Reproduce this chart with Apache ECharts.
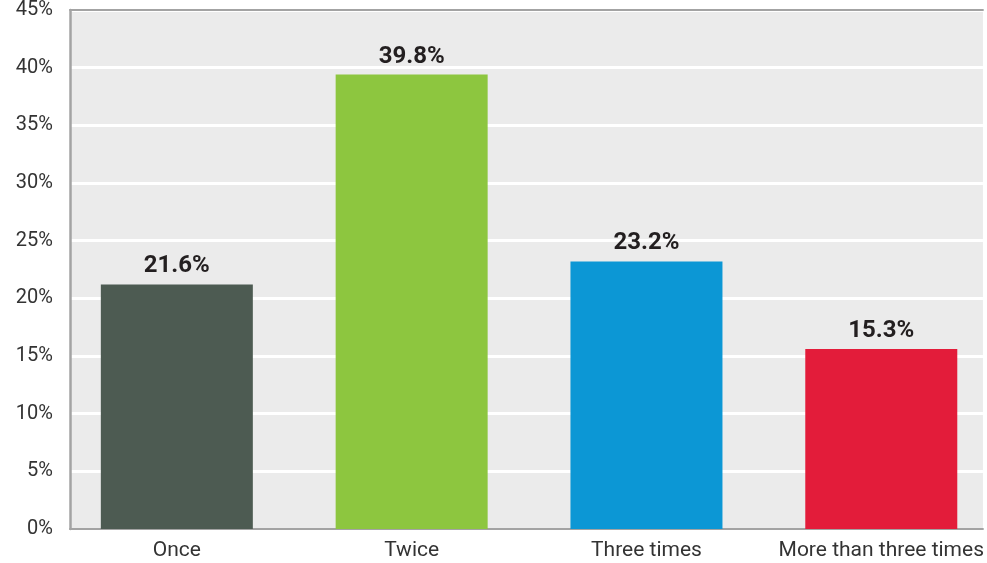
<!DOCTYPE html>
<html>
<head>
<meta charset="utf-8">
<script src="https://cdn.jsdelivr.net/npm/echarts@6/dist/echarts.min.js"></script>
<style>
html,body{margin:0;padding:0;background:#fff;}
#c{width:987px;height:563px;}
</style>
</head>
<body>
<div id="c"></div>
<script>
// Data
var categories = ['Once', 'Twice', 'Three times', 'More than three times'];
var barHeights = [21.2, 39.4, 23.2, 15.6];          // bar heights as drawn (%)
var valueLabels = ['21.6%', '39.8%', '23.2%', '15.3%']; // printed labels
var colors = ['#4d5b52', '#8dc63f', '#0c97d5', '#e31c3a'];
var yTicks = [0, 5, 10, 15, 20, 25, 30, 35, 40, 45];

var chart = echarts.init(document.getElementById('c'), null, {renderer: 'canvas'});
var font = 'Roboto, "Open Sans", sans-serif';
var seriesData = barHeights.map(function (v, i) {
  return {value: [i, v], itemStyle: {color: colors[i]}};
});
var option = {
  animation: false,
  backgroundColor: '#ffffff',
  grid: {left: 70, right: 1, top: 9, bottom: 34, backgroundColor: '#ebebeb', show: true, borderWidth: 0},
  xAxis: [{
    type: 'value',
    min: -0.455,
    max: 3.433,
    axisLine: {show: true, onZero: false, lineStyle: {color: '#a3a3a3', width: 2}},
    axisTick: {show: false},
    splitLine: {show: false},
    axisLabel: {
      customValues: [0, 1, 2, 3],
      formatter: function (v) { return categories[Math.round(v)]; },
      color: '#333333', fontSize: 21, fontFamily: font, margin: 11
    }
  }, {
    type: 'value',
    position: 'top',
    min: -0.455,
    max: 3.433,
    axisLine: {show: true, onZero: false, lineStyle: {color: '#a3a3a3', width: 2}},
    axisTick: {show: false},
    axisLabel: {show: false},
    splitLine: {show: false}
  }],
  yAxis: {
    type: 'value',
    min: 0,
    max: 45,
    interval: 5,
    axisLine: {show: true, onZero: false, lineStyle: {color: '#a3a3a3', width: 2.5}},
    axisTick: {show: false},
    splitLine: {show: true, lineStyle: {color: '#ffffff', width: 3}},
    axisLabel: {
      formatter: function (v) { return v + '%'; },
      color: '#333333', fontSize: 20, fontFamily: font, margin: 17
    }
  },
  series: [{
    type: 'bar',
    xAxisIndex: 0,
    barWidth: 152,
    data: seriesData,
    label: {
      show: true,
      position: 'top',
      distance: 6,
      formatter: function (p) { return valueLabels[p.dataIndex]; },
      color: '#231f20',
      fontSize: 24,
      fontWeight: 'bold',
      fontFamily: font
    }
  }]
};
chart.setOption(option);
</script>
</body>
</html>
